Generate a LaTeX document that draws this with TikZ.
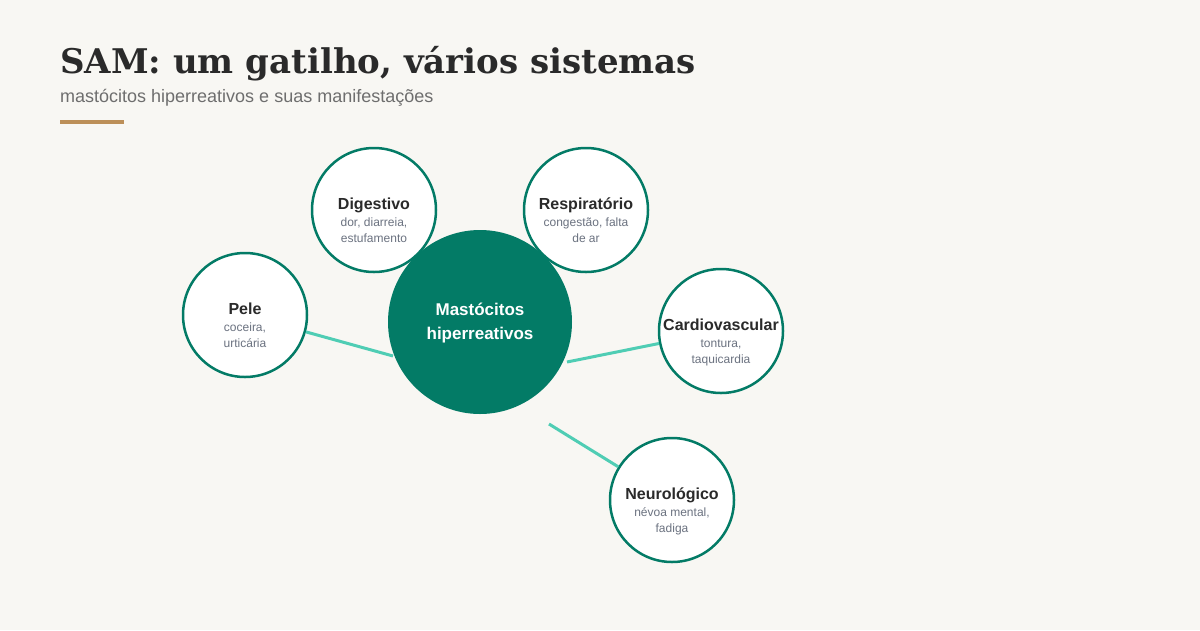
\documentclass[tikz,border=0pt]{standalone}
\usepackage{fontspec}
\setmainfont{Liberation Sans}
\newfontfamily\headfont{DejaVu Serif}
\usetikzlibrary{positioning,calc}
\definecolor{bgpaper}{HTML}{F8F7F3}
\definecolor{mastgreen}{HTML}{037B66}
\definecolor{linkteal}{HTML}{4FCDB4}
\definecolor{inkdark}{HTML}{2A2A2A}
\definecolor{subgray}{HTML}{6E6E6E}
\definecolor{notegray}{HTML}{6B7280}
\definecolor{accentbrown}{HTML}{BC8F58}
\tikzset{
  sys/.style      = {circle, draw=mastgreen, line width=2.5pt, fill=white,
                     minimum size=124pt, inner sep=0pt},
  hub/.style      = {circle, fill=mastgreen, minimum size=184pt, inner sep=0pt},
  systitle/.style = {anchor=base, inner sep=0pt, text=inkdark,
                     font=\fontsize{16}{19}\selectfont\bfseries},
  sysnote/.style  = {anchor=base, inner sep=0pt, text=notegray,
                     font=\fontsize{12}{14}\selectfont},
  hubtext/.style  = {anchor=base, inner sep=0pt, text=white,
                     font=\fontsize{17}{20}\selectfont\bfseries},
  link/.style     = {draw=linkteal, line width=3pt}
}
% circle with a title and two lines of notes
\newcommand{\sysnode}[6]{%
  \node[sys] (#1) at (#2) {};
  \node[systitle] (#1T) at ([yshift=1pt]#1.center) {#3};
  \node[sysnote]  (#1A) at ([yshift=-16pt]#1.center) {#4};
  \node[sysnote]  (#1B) at ([yshift=-32pt]#1.center) {#5};}
\begin{document}
\begin{tikzpicture}[x=1pt, y=-1pt]
  \fill[bgpaper] (0,0) rectangle (1200,630);
  \useasboundingbox (0,0) rectangle (1200,630);

  % heading
  \node[anchor=base west, inner sep=0pt, text=inkdark,
        font=\headfont\bfseries\fontsize{34}{40}\selectfont] (title) at (60,73)
    {SAM: um gatilho, vários sistemas};
  \node[anchor=base west, inner sep=0pt, text=subgray,
        font=\fontsize{18}{22}\selectfont] (subtitle) at (60,102)
    {mastócitos hiperreativos e suas manifestações};
  \draw[accentbrown, line width=4pt] (60,122) -- (124,122);

  % satellites
  \sysnode{dig}{374,210}{Digestivo}{dor, diarreia,}{estufamento}{}
  \sysnode{resp}{586,210}{Respiratório}{congestão, falta}{de ar}{}

  % hub
  \node[hub] (hub) at (480,322) {};
  \node[hubtext] (hubA) at ([yshift=6.5pt]hub.center) {Mastócitos};
  \node[hubtext] (hubB) at ([yshift=-17pt]hub.center) {hiperreativos};

  \sysnode{pele}{245,315}{Pele}{coceira,}{urticária}{}
  \sysnode{card}{721,331}{Cardiovascular}{tontura,}{taquicardia}{}
  \sysnode{neuro}{672,500}{Neurológico}{névoa mental,}{fadiga}{}

  % connectors
  \coordinate (peleEnd)  at (393,356);
  \coordinate (cardEnd)  at (567,362);
  \coordinate (neuroEnd) at (549,424);
  \draw[link] (peleEnd) -- (pele);
  \draw[link] (cardEnd) -- (card);
  \draw[link] (neuroEnd) -- (neuro);
\end{tikzpicture}
\end{document}
